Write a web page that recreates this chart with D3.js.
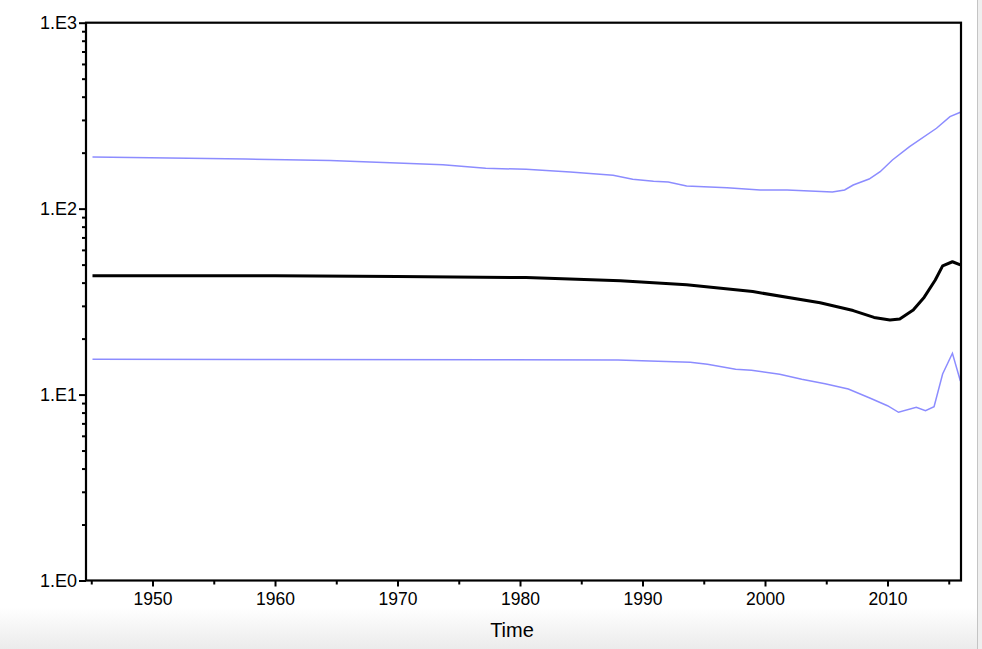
<!DOCTYPE html>
<html>
<head>
<meta charset="utf-8">
<script src="https://cdn.jsdelivr.net/npm/d3@7"></script>
<style>
  html, body { margin: 0; padding: 0; background: #fff; }
  svg { display: block; font-family: "Liberation Sans", Arial, sans-serif; }
</style>
</head>
<body>
<svg id="chart" width="982" height="649"></svg>
<script>
// ---- data ----
const upperTimes  = [1945.1, 1957.6, 1960.9, 1964.5, 1967.2, 1970.5, 1973.7, 1977.2, 1980.5, 1984.1, 1987.6, 1989.2, 1990.9, 1992.1, 1993.6, 1996.9, 1999.6, 2001.8, 2005.5, 2006.5, 2007.2, 2008.5, 2009.4, 2010.4, 2011.8, 2014.0, 2015.1, 2015.95];
const upperValues = [189.5, 184.9, 183.3, 181.5, 178.5, 175.5, 172.3, 164.8, 162.8, 157.4, 151.1, 143.8, 140.3, 139.1, 132.4, 129.6, 126.0, 126.0, 122.9, 126.0, 134.0, 144.3, 158.0, 182.6, 215.4, 270.5, 312.3, 329.8];

const medianTimes  = [1945.1, 1960, 1970, 1980.5, 1988.2, 1993.6, 1999, 2004.5, 2007.2, 2008.9, 2010.2, 2011, 2012.1, 2013, 2013.9, 2014.5, 2015.3, 2015.95];
const medianValues = [43.6, 43.5, 43.2, 42.6, 41.0, 39.0, 35.8, 31.2, 28.3, 26.0, 25.2, 25.5, 28.5, 33.4, 41.3, 49.2, 51.8, 49.8];

const lowerTimes  = [1945.1, 1960, 1978, 1988, 1990.6, 1993.9, 1995.3, 1997.6, 1998.9, 2001.2, 2003, 2004.9, 2006.8, 2008.6, 2010, 2010.9, 2012.35, 2013.1, 2013.8, 2014.5, 2015.3, 2015.95];
const lowerValues = [15.5, 15.45, 15.4, 15.35, 15.16, 14.92, 14.55, 13.68, 13.51, 12.85, 12.08, 11.44, 10.71, 9.55, 8.71, 8.03, 8.54, 8.19, 8.61, 12.9, 16.67, 11.83];

const xMajorTicks = [1950, 1960, 1970, 1980, 1990, 2000, 2010];
const xMinorTicks = [1945, 1955, 1965, 1975, 1985, 1995, 2005, 2015];
const yMajorTicks = [1, 10, 100, 1000];
const yTickLabels = ["1.E0", "1.E1", "1.E2", "1.E3"];
const xTitle = "Time";

// ---- layout ----
const svg = d3.select("#chart");
const L = 86, R = 961, T = 22.7, B = 580.5;

// background decorations (window chrome of screenshot)
const defs = svg.append("defs");
const grad = defs.append("linearGradient").attr("id", "bg").attr("x1", 0).attr("y1", 0).attr("x2", 0).attr("y2", 1);
grad.append("stop").attr("offset", "0%").attr("stop-color", "#ffffff");
grad.append("stop").attr("offset", "100%").attr("stop-color", "#ebebeb");
svg.append("rect").attr("x", 0).attr("y", 608).attr("width", 982).attr("height", 41).attr("fill", "url(#bg)");
svg.append("rect").attr("x", 977).attr("y", 0).attr("width", 5).attr("height", 649).attr("fill", "#efefef");
svg.append("line").attr("x1", 977.5).attr("x2", 977.5).attr("y1", 0).attr("y2", 649).attr("stroke", "#c4c4c4").attr("stroke-width", 1);

const x = d3.scaleLinear().domain([1944.57, 2016]).range([L, R]);
const y = d3.scaleLog().domain([1, 1000]).range([B, T]);

// minor y ticks (2..9 per decade)
const yMinor = [];
for (let d = 1; d < 1000; d *= 10) for (let k = 2; k <= 9; k++) yMinor.push(d * k);

const gYminor = svg.append("g").attr("transform", `translate(${L},0)`)
  .call(d3.axisLeft(y).tickValues(yMinor).tickSize(4).tickFormat(""));
const gY = svg.append("g").attr("transform", `translate(${L},0)`)
  .call(d3.axisLeft(y).tickValues(yMajorTicks).tickSize(7).tickPadding(2)
    .tickFormat((d, i) => yTickLabels[i]));

const gXminor = svg.append("g").attr("transform", `translate(0,${B})`)
  .call(d3.axisBottom(x).tickValues(xMinorTicks).tickSize(4).tickFormat(""));
const gX = svg.append("g").attr("transform", `translate(0,${B})`)
  .call(d3.axisBottom(x).tickValues(xMajorTicks).tickSize(6).tickPadding(6).tickFormat(d3.format("d")));

[gYminor, gY, gXminor, gX].forEach(g => {
  g.select(".domain").remove();
  g.selectAll(".tick line").attr("stroke", "#000").attr("stroke-width", 2);
  g.selectAll("text").attr("fill", "#000")
    .style("font-family", "'Liberation Sans', Arial, sans-serif");
});
gY.selectAll("text").style("font-size", "18px");
gX.selectAll("text").style("font-size", "17.5px");

// lines
const lineGen = (times) => d3.line().x((d, i) => x(times[i])).y(d => y(d));
svg.append("path").datum(upperValues).attr("d", lineGen(upperTimes))
  .attr("fill", "none").attr("stroke", "#8c8cff").attr("stroke-width", 1.5);
svg.append("path").datum(lowerValues).attr("d", lineGen(lowerTimes))
  .attr("fill", "none").attr("stroke", "#8c8cff").attr("stroke-width", 1.5);
svg.append("path").datum(medianValues).attr("d", lineGen(medianTimes))
  .attr("fill", "none").attr("stroke", "#000").attr("stroke-width", 3).attr("stroke-linejoin", "round");

// frame
svg.append("rect").attr("x", L).attr("y", T).attr("width", R - L).attr("height", B - T)
  .attr("fill", "none").attr("stroke", "#000").attr("stroke-width", 2.2);

// axis title
svg.append("text").attr("x", 512).attr("y", 637).attr("text-anchor", "middle")
  .style("font-size", "20px").attr("fill", "#000").text(xTitle);
</script>
</body>
</html>
